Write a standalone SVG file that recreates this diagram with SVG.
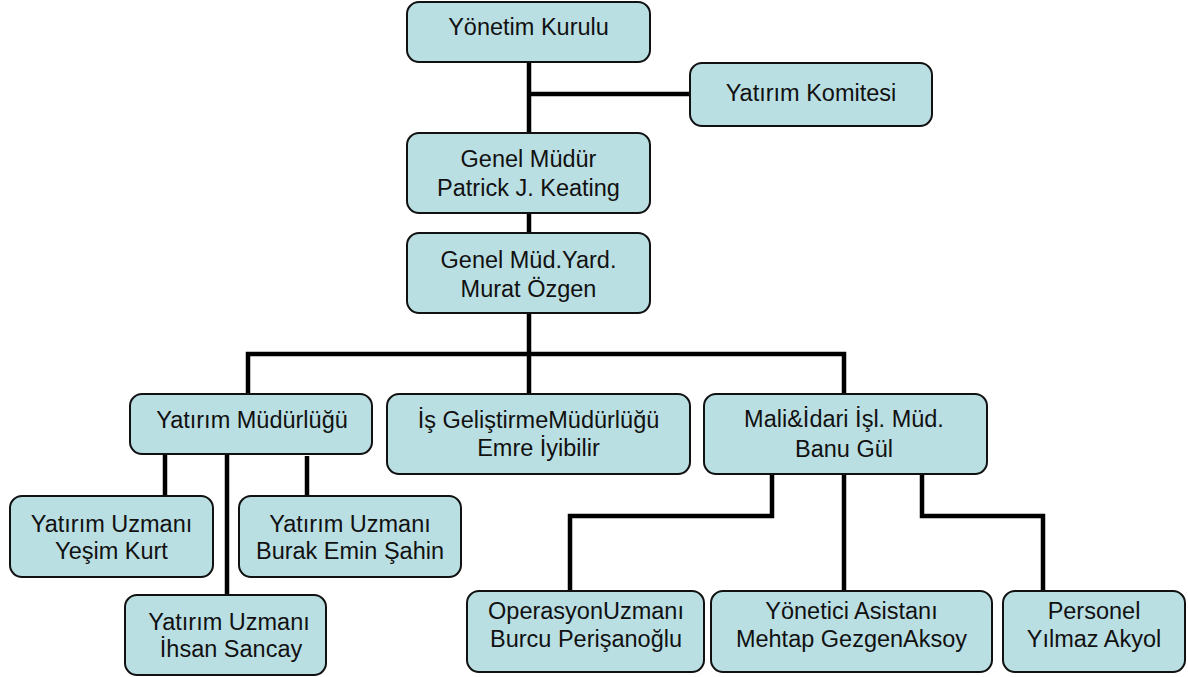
<svg xmlns="http://www.w3.org/2000/svg" width="1188" height="677" viewBox="0 0 1188 677">
<style>
.box{fill:#BADFE3;stroke:#111;stroke-width:2}
.t{font-family:"Liberation Sans",Arial,sans-serif;font-size:23.5px;fill:#111;text-anchor:middle}
.c{fill:none;stroke:#000;stroke-width:4.5;stroke-linejoin:miter}
</style>
<rect width="1188" height="677" fill="#fff"/>
<g id="connectors">
<path class="c" d="M529 62V133"/>
<path class="c" d="M529 94H690"/>
<path class="c" d="M529 213V233"/>
<path class="c" d="M529 313V394"/>
<path class="c" d="M248 394V354H844V394"/>
<path class="c" d="M165 454V496"/>
<path class="c" d="M227 454V595"/>
<path class="c" d="M307 456V496"/>
<path class="c" d="M772 474V516H570V591"/>
<path class="c" d="M844 474V591"/>
<path class="c" d="M922 474V516H1043V591"/>
</g>
<g id="yonetim-kurulu"><rect class="box" x="407" y="2" width="243" height="60" rx="12"/><text class="t" x="528.5" y="35">Yönetim Kurulu</text></g>
<g id="yatirim-komitesi"><rect class="box" x="690" y="63" width="242" height="63" rx="12"/><text class="t" x="811" y="101">Yatırım Komitesi</text></g>
<g id="genel-mudur"><rect class="box" x="407" y="133" width="243" height="80" rx="12"/><text class="t" x="528.5" y="167">Genel Müdür</text><text class="t" x="528.5" y="196">Patrick J. Keating</text></g>
<g id="genel-mud-yard"><rect class="box" x="407" y="233" width="243" height="80" rx="12"/><text class="t" x="528.5" y="268">Genel Müd.Yard.</text><text class="t" x="528.5" y="297">Murat Özgen</text></g>
<g id="yatirim-mudurlugu"><rect class="box" x="130" y="394" width="242" height="60" rx="12"/><text class="t" x="252" y="428">Yatırım Müdürlüğü</text></g>
<g id="is-gelistirme"><rect class="box" x="387" y="394" width="303" height="80" rx="12"/><text class="t" x="538.5" y="428">İş GeliştirmeMüdürlüğü</text><text class="t" x="538.5" y="456">Emre İyibilir</text></g>
<g id="mali-idari"><rect class="box" x="704" y="394" width="283" height="80" rx="12"/><text class="t" x="844" y="427">Mali&amp;İdari İşl. Müd.</text><text class="t" x="844" y="457">Banu Gül</text></g>
<g id="yesim-kurt"><rect class="box" x="10" y="496" width="203" height="81" rx="12"/><text class="t" x="111.5" y="532">Yatırım Uzmanı</text><text class="t" x="111.5" y="559">Yeşim Kurt</text></g>
<g id="burak-emin-sahin"><rect class="box" x="239" y="496" width="222" height="81" rx="12"/><text class="t" x="350" y="532">Yatırım Uzmanı</text><text class="t" x="350" y="559">Burak Emin Şahin</text></g>
<g id="ihsan-sancay"><rect class="box" x="125" y="595" width="201" height="80" rx="12"/><text class="t" x="229" y="630">Yatırım Uzmanı</text><text class="t" x="231" y="657">İhsan Sancay</text></g>
<g id="operasyon-uzmani"><rect class="box" x="467" y="591" width="237" height="81" rx="12"/><text class="t" x="586" y="619">OperasyonUzmanı</text><text class="t" x="586" y="647">Burcu Perişanoğlu</text></g>
<g id="yonetici-asistani"><rect class="box" x="711" y="591" width="281" height="81" rx="12"/><text class="t" x="851.5" y="619">Yönetici Asistanı</text><text class="t" x="851.5" y="647">Mehtap GezgenAksoy</text></g>
<g id="personel"><rect class="box" x="1003" y="591" width="182" height="81" rx="12"/><text class="t" x="1094" y="619">Personel</text><text class="t" x="1094" y="647">Yılmaz Akyol</text></g>
</svg>
